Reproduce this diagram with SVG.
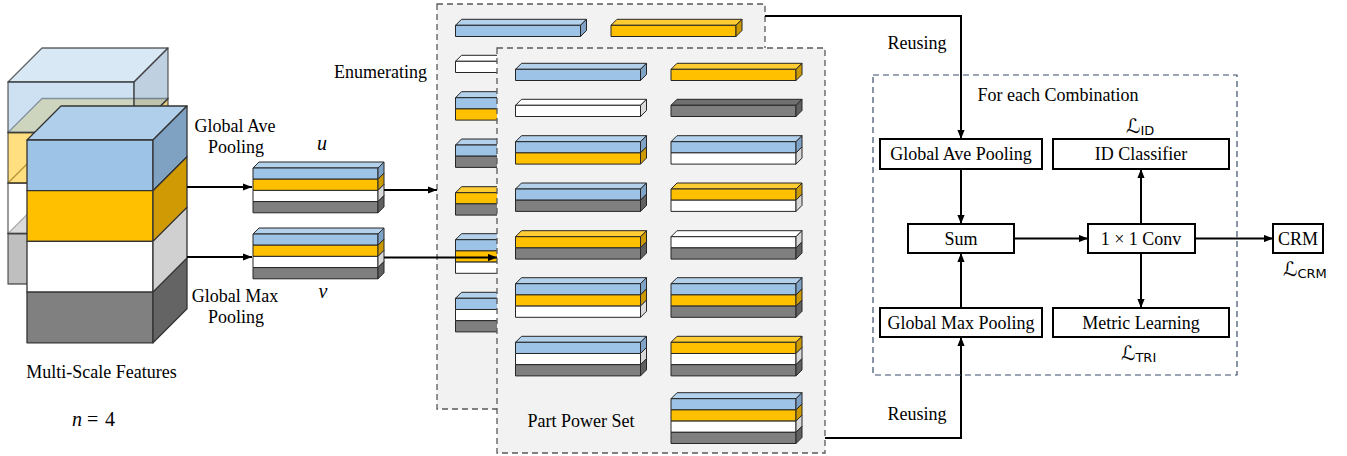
<svg xmlns="http://www.w3.org/2000/svg" width="1347" height="456" viewBox="0 0 1347 456">
<style>
.t{font-family:"Liberation Serif","Times New Roman",serif;font-size:18px;fill:#000}
.mi{font-family:"Liberation Serif","Times New Roman",serif;font-style:italic;font-size:20px}
.ls{font-family:"DejaVu Serif","DejaVu Sans",serif;font-size:20px}
.sub{font-family:"DejaVu Sans","Liberation Sans",sans-serif;font-style:normal;font-size:13px}
.bar{stroke:#262626;stroke-width:1;stroke-linejoin:round}
.cube{stroke:#333;stroke-width:1.3;stroke-linejoin:round}
.ghost{stroke:#333;stroke-opacity:0.75;stroke-width:1.3;fill-opacity:0.5;stroke-linejoin:round}
.panel{fill:#f2f2f2;stroke:#595959;stroke-width:1.3;stroke-dasharray:6 4}
.combo{fill:none;stroke:#3b4c6b;stroke-width:1.2;stroke-dasharray:6 4}
.box{fill:#fff;stroke:#000;stroke-width:2}
.con{fill:none;stroke:#000;stroke-width:2}
</style>
<defs>
<marker id="ah" viewBox="0 0 10 8" refX="10" refY="4" markerWidth="9" markerHeight="7.2" markerUnits="userSpaceOnUse" orient="auto"><path d="M0,0 L10,4 L0,8 z" fill="#000"/></marker>
<g id="Lb" class="bar"><rect width="125" height="11.2" fill="#9dc3e6"/><path d="M125,0 l6,-6 v11.2 l-6,6 z" fill="#7fa3c6"/></g>
<g id="Ly" class="bar"><rect width="125" height="11.2" fill="#ffc000"/><path d="M125,0 l6,-6 v11.2 l-6,6 z" fill="#cc9a00"/></g>
<g id="Lw" class="bar"><rect width="125" height="11.2" fill="#ffffff"/><path d="M125,0 l6,-6 v11.2 l-6,6 z" fill="#d9d9d9"/></g>
<g id="Lg" class="bar"><rect width="125" height="11.2" fill="#7f7f7f"/><path d="M125,0 l6,-6 v11.2 l-6,6 z" fill="#606060"/></g>
<path id="Tb" class="bar" d="M0,0 l6,-6 h125 l-6,6 z" fill="#b4d1ec"/>
<path id="Ty" class="bar" d="M0,0 l6,-6 h125 l-6,6 z" fill="#ffcd33"/>
<path id="Tw" class="bar" d="M0,0 l6,-6 h125 l-6,6 z" fill="#ffffff"/>
<path id="Tg" class="bar" d="M0,0 l6,-6 h125 l-6,6 z" fill="#707070"/>
<g id="pset">
<use href="#Tb" x="515.5" y="69.3"/><use href="#Lb" x="515.5" y="69.3"/>
<use href="#Ty" x="671" y="69.3"/><use href="#Ly" x="671" y="69.3"/>
<use href="#Tw" x="515.5" y="105.3"/><use href="#Lw" x="515.5" y="105.3"/>
<use href="#Tg" x="671" y="105.3"/><use href="#Lg" x="671" y="105.3"/>
<use href="#Tb" x="515.5" y="141.7"/><use href="#Lb" x="515.5" y="141.7"/><use href="#Ly" x="515.5" y="152.9"/>
<use href="#Tb" x="671" y="141.7"/><use href="#Lb" x="671" y="141.7"/><use href="#Lw" x="671" y="152.9"/>
<use href="#Tb" x="515.5" y="189"/><use href="#Lb" x="515.5" y="189"/><use href="#Lg" x="515.5" y="200.2"/>
<use href="#Ty" x="671" y="189"/><use href="#Ly" x="671" y="189"/><use href="#Lw" x="671" y="200.2"/>
<use href="#Ty" x="515.5" y="236.7"/><use href="#Ly" x="515.5" y="236.7"/><use href="#Lg" x="515.5" y="247.9"/>
<use href="#Tw" x="671" y="236.7"/><use href="#Lw" x="671" y="236.7"/><use href="#Lg" x="671" y="247.9"/>
<use href="#Tb" x="515.5" y="283.7"/><use href="#Lb" x="515.5" y="283.7"/><use href="#Ly" x="515.5" y="294.9"/><use href="#Lw" x="515.5" y="306.1"/>
<use href="#Tb" x="671" y="283.7"/><use href="#Lb" x="671" y="283.7"/><use href="#Ly" x="671" y="294.9"/><use href="#Lg" x="671" y="306.1"/>
<use href="#Tb" x="515.5" y="342.3"/><use href="#Lb" x="515.5" y="342.3"/><use href="#Lw" x="515.5" y="353.5"/><use href="#Lg" x="515.5" y="364.7"/>
<use href="#Ty" x="671" y="342.3"/><use href="#Ly" x="671" y="342.3"/><use href="#Lw" x="671" y="353.5"/><use href="#Lg" x="671" y="364.7"/>
<use href="#Tb" x="671" y="398.7"/><use href="#Lb" x="671" y="398.7"/><use href="#Ly" x="671" y="409.9"/><use href="#Lw" x="671" y="421.1"/><use href="#Lg" x="671" y="432.3"/>
</g>
</defs>
<rect width="1347" height="456" fill="#fff"/>

<g id="cube-back">
<path class="ghost" d="M8,233.5 l34,-34 h126 l-34,34 z" fill="#707070"/>
<rect class="ghost" x="8" y="233.5" width="126" height="50.5" fill="#7f7f7f"/>
<path class="ghost" d="M134,233.5 l34,-34 v50.5 l-34,34 z" fill="#606060"/>
<path class="ghost" d="M8,183 l34,-34 h126 l-34,34 z" fill="#ffffff"/>
<rect class="ghost" x="8" y="183" width="126" height="50.5" fill="#ffffff"/>
<path class="ghost" d="M134,183 l34,-34 v50.5 l-34,34 z" fill="#d0d0d0"/>
<path class="ghost" d="M8,132.5 l34,-34 h126 l-34,34 z" fill="#ffcd33"/>
<rect class="ghost" x="8" y="132.5" width="126" height="50.5" fill="#ffc000"/>
<path class="ghost" d="M134,132.5 l34,-34 v50.5 l-34,34 z" fill="#cc9a00"/>
<path class="ghost" d="M8,82 l34,-34 h126 l-34,34 z" fill="#b4d1ec"/>
<rect class="ghost" x="8" y="82" width="126" height="50.5" fill="#9dc3e6"/>
<path class="ghost" d="M134,82 l34,-34 v50.5 l-34,34 z" fill="#7fa2c3"/>
</g>

<g id="cube-front" class="cube">
<path d="M27,140 l34,-34 h126 l-34,34 z" fill="#b0cfeb"/>
<rect x="27" y="140" width="126" height="50.7" fill="#9dc3e6"/>
<path d="M153,140 l34,-34 v50.7 l-34,34 z" fill="#7fa2c3"/>
<rect x="27" y="190.7" width="126" height="50.7" fill="#ffc000"/>
<path d="M153,190.7 l34,-34 v50.7 l-34,34 z" fill="#cf9a04"/>
<rect x="27" y="241.4" width="126" height="50.7" fill="#ffffff"/>
<path d="M153,241.4 l34,-34 v50.7 l-34,34 z" fill="#d0d0d0"/>
<rect x="27" y="292.1" width="126" height="50.7" fill="#808080"/>
<path d="M153,292.1 l34,-34 v50.7 l-34,34 z" fill="#646464"/>
</g>

<g id="labels-left">
<text class="t" x="235" y="132" text-anchor="middle">Global Ave</text>
<text class="t" x="236" y="153" text-anchor="middle">Pooling</text>
<text class="t" x="235" y="301.5" text-anchor="middle">Global Max</text>
<text class="t" x="236" y="323" text-anchor="middle">Pooling</text>
<text class="mi" x="322" y="150" text-anchor="middle">u</text>
<text class="mi" x="323" y="298" text-anchor="middle">v</text>
<text class="t" x="101.5" y="377.5" text-anchor="middle">Multi-Scale Features</text>
<text class="t" y="426" style="font-size:20px"><tspan class="mi" x="72">n</tspan><tspan x="87">=</tspan><tspan x="105">4</tspan></text>
<text class="t" x="334" y="78">Enumerating</text>
</g>

<g id="bar-u">
<use href="#Tb" x="253" y="168"/><use href="#Lb" x="253" y="168"/><use href="#Ly" x="253" y="179.2"/><use href="#Lw" x="253" y="190.4"/><use href="#Lg" x="253" y="201.6"/>
</g>
<g id="bar-v">
<use href="#Tb" x="253" y="234"/><use href="#Lb" x="253" y="234"/><use href="#Ly" x="253" y="245.2"/><use href="#Lw" x="253" y="256.4"/><use href="#Lg" x="253" y="267.6"/>
</g>

<g id="panel-enumerating">
<rect class="panel" x="437" y="4" width="328" height="405"/>
<use href="#pset" transform="translate(-60,-44)"/>
</g>

<g id="connectors">
<path class="con" d="M187,187 H252" marker-end="url(#ah)"/>
<path class="con" d="M187,257 H252" marker-end="url(#ah)"/>
<path class="con" d="M384,190 H437" marker-end="url(#ah)"/>
<path class="con" d="M384,257.5 H497" marker-end="url(#ah)"/>
<path class="con" d="M765,16 H961 V139" marker-end="url(#ah)"/>
<path class="con" d="M825,438 H961 V337" marker-end="url(#ah)"/>
<path class="con" d="M961,169 V224" marker-end="url(#ah)"/>
<path class="con" d="M961,308 V253" marker-end="url(#ah)"/>
<path class="con" d="M1014,238.5 H1088" marker-end="url(#ah)"/>
<path class="con" d="M1141,224 V169" marker-end="url(#ah)"/>
<path class="con" d="M1141,253 V308" marker-end="url(#ah)"/>
<path class="con" d="M1195,238.5 H1273" marker-end="url(#ah)"/>
<text class="t" x="917" y="49" text-anchor="middle">Reusing</text>
<text class="t" x="917" y="420" text-anchor="middle">Reusing</text>
</g>

<g id="panel-part-power-set">
<rect class="panel" x="497" y="48" width="328" height="405"/>
<use href="#pset"/>
<text class="t" x="581" y="427" text-anchor="middle">Part Power Set</text>
</g>

<g id="combination">
<rect class="combo" x="873" y="75" width="364" height="300"/>
<text class="t" x="1058" y="100.5" text-anchor="middle">For each Combination</text>
</g>
<g id="node-gap"><rect class="box" x="880" y="139" width="162" height="30"/><text class="t" x="961" y="160" text-anchor="middle">Global Ave Pooling</text></g>
<g id="node-id"><rect class="box" x="1053" y="139" width="176" height="30"/><text class="t" x="1141" y="160" text-anchor="middle">ID Classifier</text>
<text class="ls" x="1126" y="133">ℒ<tspan class="sub" dy="2">ID</tspan></text></g>
<g id="node-sum"><rect class="box" x="908" y="224" width="106" height="29"/><text class="t" x="961" y="244.5" text-anchor="middle">Sum</text></g>
<g id="node-conv"><rect class="box" x="1088" y="224" width="107" height="29"/><text class="t" x="1141" y="244.5" text-anchor="middle">1 × 1 Conv</text></g>
<g id="node-gmp"><rect class="box" x="880" y="308" width="162" height="29"/><text class="t" x="961" y="328.5" text-anchor="middle">Global Max Pooling</text></g>
<g id="node-metric"><rect class="box" x="1053" y="308" width="176" height="29"/><text class="t" x="1141" y="328.5" text-anchor="middle">Metric Learning</text>
<text class="ls" x="1121" y="360">ℒ<tspan class="sub" dy="2">TRI</tspan></text></g>
<g id="node-crm"><rect class="box" x="1273" y="224" width="50" height="29"/><text class="t" x="1298" y="244.5" text-anchor="middle">CRM</text>
<text class="ls" x="1283" y="276">ℒ<tspan class="sub" dy="2">CRM</tspan></text></g>
</svg>
